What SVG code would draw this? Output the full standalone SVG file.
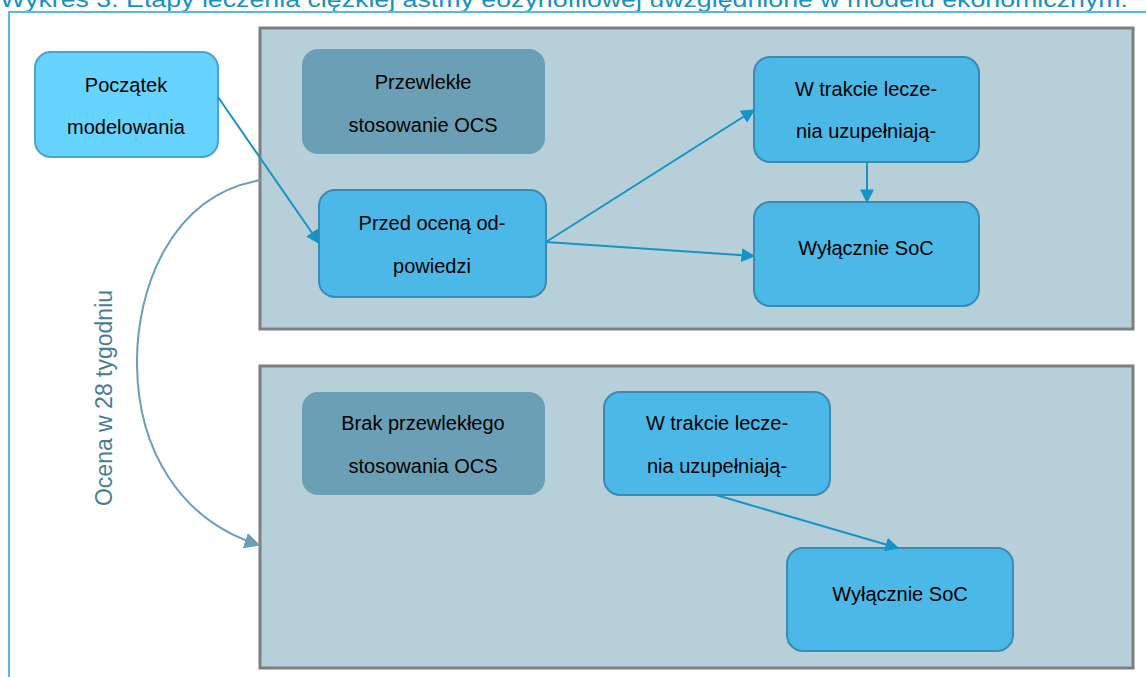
<svg xmlns="http://www.w3.org/2000/svg" width="1146" height="677" viewBox="0 0 1146 677">
<style>
.t{font-family:"Liberation Sans",Arial,sans-serif;font-size:20px;fill:#000;text-anchor:middle}
.cont{fill:#b7cfd9;stroke:#7f7f7f;stroke-width:3}
.n{fill:#4cb8e8;stroke:#3a8bb3;stroke-width:2}
.g{fill:#6a9fb5}
.c{stroke:#1594c6;stroke-width:2;fill:none}
</style>
<defs>
<marker id="ah" viewBox="0 0 10 10" refX="9" refY="5" markerWidth="14" markerHeight="14" markerUnits="userSpaceOnUse" orient="auto"><path d="M0,0L10,5L0,10z" fill="#1594c6"/></marker>
<marker id="ah2" viewBox="0 0 10 10" refX="9" refY="5" markerWidth="16" markerHeight="16" markerUnits="userSpaceOnUse" orient="auto"><path d="M0,0L10,5L0,10z" fill="#6a9fb5"/></marker>
</defs>
<rect width="1146" height="677" fill="#fff"/>
<text x="0" y="7" font-family="Liberation Sans,Arial,sans-serif" font-size="22" fill="#1a8fc0" textLength="1128" lengthAdjust="spacingAndGlyphs">Wykres 3. Etapy leczenia ciężkiej astmy eozynofilowej uwzględnione w modelu ekonomicznym.</text>
<path d="M9,677V12H1146" fill="none" stroke="#5bb8e0" stroke-width="2"/>
<g id="container-top"><rect class="cont" x="260" y="28" width="873" height="301"/></g>
<g id="container-bottom"><rect class="cont" x="260" y="366" width="873" height="302"/></g>
<g id="poczatek"><rect x="35" y="52" width="183" height="105" rx="16" fill="#66d4fe" stroke="#4aa3c8" stroke-width="2"/><text class="t" x="126" y="92">Początek</text><text class="t" x="126" y="134">modelowania</text></g>
<g id="przewlekle"><rect class="g" x="302" y="49" width="243" height="105" rx="16"/><text class="t" x="423" y="89">Przewlekłe</text><text class="t" x="423" y="132">stosowanie OCS</text></g>
<g id="przed"><rect class="n" x="319" y="190" width="227" height="107" rx="16"/><text class="t" x="432" y="230">Przed oceną od-</text><text class="t" x="432" y="273">powiedzi</text></g>
<g id="wtrakcie-top"><rect class="n" x="754" y="57" width="225" height="105" rx="16"/><text class="t" x="866" y="96">W trakcie lecze-</text><text class="t" x="866" y="138">nia uzupełniają-</text></g>
<g id="soc-top"><rect class="n" x="754" y="202" width="225" height="104" rx="16"/><text class="t" x="866" y="255">Wyłącznie SoC</text></g>
<g id="brak"><rect class="g" x="302" y="392" width="243" height="103" rx="16"/><text class="t" x="423" y="430">Brak przewlekłego</text><text class="t" x="423" y="473">stosowania OCS</text></g>
<g id="wtrakcie-bottom"><rect class="n" x="604" y="392" width="226" height="103" rx="16"/><text class="t" x="717" y="430">W trakcie lecze-</text><text class="t" x="717" y="473">nia uzupełniają-</text></g>
<g id="soc-bottom"><rect class="n" x="787" y="548" width="226" height="103" rx="16"/><text class="t" x="900" y="601">Wyłącznie SoC</text></g>
<g id="connectors">
<line class="c" x1="218" y1="97" x2="319" y2="243" marker-end="url(#ah)"/>
<line class="c" x1="546" y1="242" x2="754" y2="110" marker-end="url(#ah)"/>
<line class="c" x1="546" y1="242" x2="754" y2="256" marker-end="url(#ah)"/>
<line class="c" x1="867" y1="162" x2="867" y2="202" marker-end="url(#ah)"/>
<line class="c" x1="716" y1="495" x2="898" y2="548" marker-end="url(#ah)"/>
<path d="M261,180C170,195 136,290 137,365C138,450 180,520 259,545" fill="none" stroke="#6a9fb5" stroke-width="2" marker-end="url(#ah2)"/>
<text x="0" y="0" transform="translate(112,398) rotate(-90)" font-family="Liberation Sans,Arial,sans-serif" font-size="23" fill="#4a7d95" text-anchor="middle">Ocena w 28 tygodniu</text>
</g>
</svg>
